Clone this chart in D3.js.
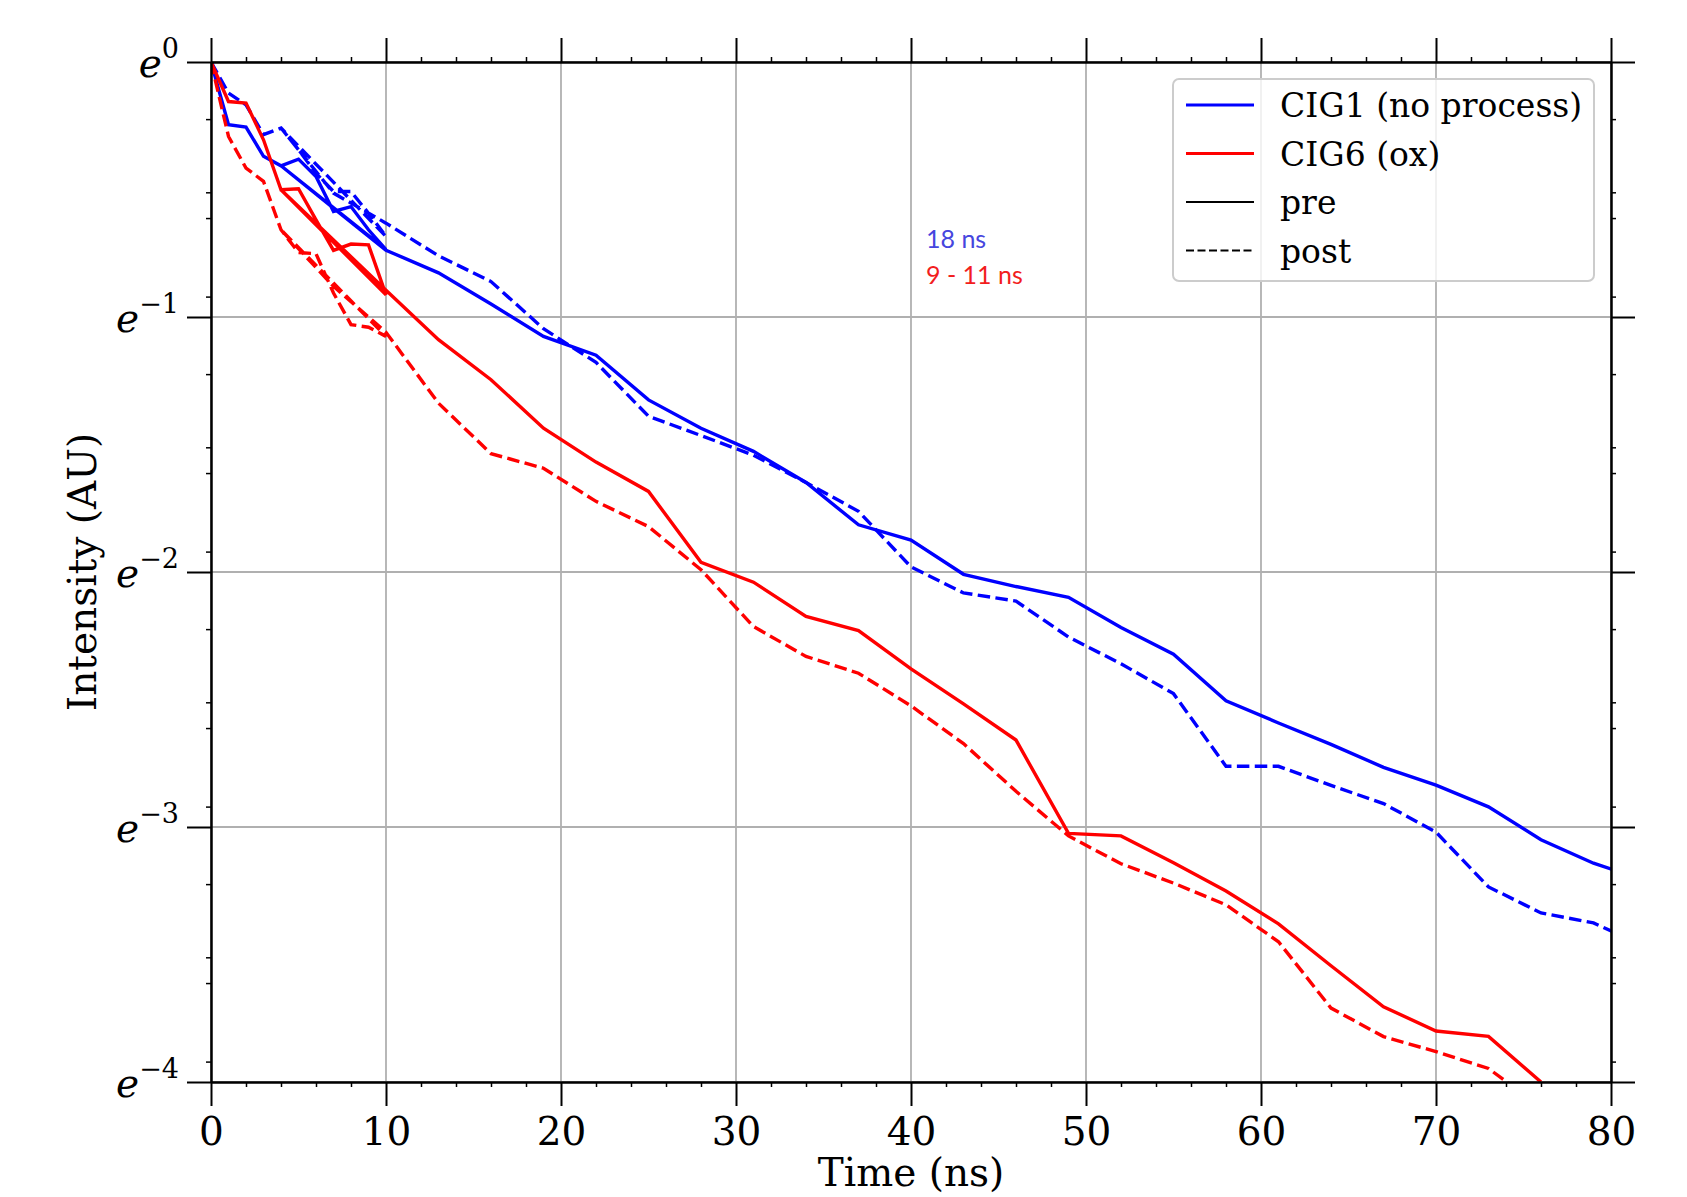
<!DOCTYPE html>
<html>
<head>
<meta charset="utf-8">
<script src="https://cdn.jsdelivr.net/npm/d3@7"></script>
<style>
  body { margin: 0; background: #ffffff; }
</style>
</head>
<body>
<div id="graph1"></div>
<script>
// frame of the figure
const FRAME_WIDTH = 1687;
const FRAME_HEIGHT = 1197;
const MARGINS = {left: 211, right: 76, top: 62, bottom: 115};

const VIS_WIDTH = FRAME_WIDTH - MARGINS.left - MARGINS.right;
const VIS_HEIGHT = FRAME_HEIGHT - MARGINS.top - MARGINS.bottom;

// tick values (y is ln of intensity, axis labelled as powers of e)
const X_TICKS = [0, 10, 20, 30, 40, 50, 60, 70, 80];
const X_MINOR = [2, 4, 6, 8, 12, 14, 16, 18, 22, 24, 26, 28, 32, 34, 36, 38, 42, 44, 46, 48,
                 52, 54, 56, 58, 62, 64, 66, 68, 72, 74, 76, 78];
const Y_TICKS = [0, -1, -2, -3, -4];
const Y_MINOR = [-0.224, -0.511, -0.612, -0.92, -1.224, -1.511, -1.612, -1.92,
                 -2.224, -2.511, -2.612, -2.92, -3.224, -3.511, -3.612, -3.92];

// time points: first 10 ns at 1 ns step, then a 3 ns step trace
const T_FINE = [0, 1, 2, 3, 4, 5, 6, 7, 8, 9, 10];
const T_COARSE = [4, 7, 10, 13, 16, 19, 22, 25, 28, 31, 34, 37, 40, 43, 46, 49, 52, 55, 58,
                  61, 64, 67, 70, 73, 76, 79, 82];

// ln(intensity)
const CIG1_PRE_FINE = [0, -0.246, -0.255, -0.370, -0.407, -0.381, -0.449, -0.586, -0.567, -0.658, -0.736];
const CIG1_PRE_COARSE = [-0.407, -0.573, -0.738, -0.827, -0.949, -1.076, -1.150, -1.325, -1.436, -1.527,
                         -1.649, -1.815, -1.875, -2.009, -2.057, -2.099, -2.218, -2.322, -2.505, -2.592,
                         -2.676, -2.766, -2.836, -2.921, -3.050, -3.142, -3.210];

const CIG1_POST_FINE = [0, -0.122, -0.168, -0.285, -0.259, -0.344, -0.436, -0.508, -0.508, -0.593, -0.684];
const CIG1_POST_COARSE = [-0.259, -0.514, -0.632, -0.760, -0.861, -1.046, -1.178, -1.389, -1.465, -1.542,
                          -1.649, -1.762, -1.980, -2.082, -2.114, -2.255, -2.360, -2.477, -2.762, -2.762,
                          -2.837, -2.908, -3.020, -3.235, -3.337, -3.376, -3.470];

const CIG6_PRE_FINE = [0, -0.155, -0.161, -0.305, -0.501, -0.497, -0.619, -0.739, -0.714, -0.717, -0.913];
const CIG6_PRE_COARSE = [-0.501, -0.698, -0.895, -1.089, -1.246, -1.436, -1.569, -1.684, -1.962, -2.040,
                         -2.174, -2.230, -2.380, -2.517, -2.659, -3.025, -3.035, -3.140, -3.251, -3.380,
                         -3.544, -3.705, -3.800, -3.821, -4.000];

const CIG6_POST_FINE = [0, -0.292, -0.416, -0.468, -0.658, -0.747, -0.752, -0.906, -1.030, -1.040, -1.076];
const CIG6_POST_COARSE = [-0.658, -0.880, -1.060, -1.338, -1.536, -1.593, -1.723, -1.822, -1.991, -2.214,
                          -2.331, -2.397, -2.525, -2.673, -2.860, -3.035, -3.144, -3.220, -3.305, -3.450,
                          -3.710, -3.822, -3.881, -3.947, -4.100];

const LEGEND_LABELS = ["CIG1 (no process)", "CIG6 (ox)", "pre", "post"];
const NOTES = ["18 ns", "9 - 11 ns"];

const BLUE = "#0000ff";
const RED = "#ff0000";
const SERIF = "'DejaVu Serif', serif";

// join fine and coarse parts into one trace, in plotting order
function makeTrace(fine, coarse) {
	const pts = T_FINE.map((t, i) => [t, fine[i]]);
	coarse.forEach((v, i) => pts.push([T_COARSE[i], v]));
	return pts;
}

const SERIES = [
	{color: BLUE, dash: null, pts: makeTrace(CIG1_PRE_FINE, CIG1_PRE_COARSE)},
	{color: BLUE, dash: "12.5,5.4", pts: makeTrace(CIG1_POST_FINE, CIG1_POST_COARSE)},
	{color: RED, dash: null, pts: makeTrace(CIG6_PRE_FINE, CIG6_PRE_COARSE)},
	{color: RED, dash: "12.5,5.4", pts: makeTrace(CIG6_POST_FINE, CIG6_POST_COARSE)}
];

const FRAME1 = d3.select("#graph1")
				.append("svg")
					.attr("width", FRAME_WIDTH)
					.attr("height", FRAME_HEIGHT)
					.style("display", "block");

FRAME1.append("rect")
		.attr("width", FRAME_WIDTH)
		.attr("height", FRAME_HEIGHT)
		.attr("fill", "#ffffff");

const X_SCALE = d3.scaleLinear().domain([0, 80]).range([0, VIS_WIDTH]);
const Y_SCALE = d3.scaleLinear().domain([-4, 0]).range([VIS_HEIGHT, 0]);

const PLOT = FRAME1.append("g")
				.attr("transform", "translate(" + MARGINS.left + "," + MARGINS.top + ")");

PLOT.append("clipPath")
		.attr("id", "clip")
	.append("rect")
		.attr("width", VIS_WIDTH)
		.attr("height", VIS_HEIGHT);

// grid
PLOT.append("g")
	.selectAll("line")
	.data(X_TICKS)
	.enter()
	.append("line")
		.attr("x1", d => X_SCALE(d))
		.attr("x2", d => X_SCALE(d))
		.attr("y1", 0)
		.attr("y2", VIS_HEIGHT)
		.attr("stroke", "#b0b0b0")
		.attr("stroke-width", 1.8);

PLOT.append("g")
	.selectAll("line")
	.data(Y_TICKS)
	.enter()
	.append("line")
		.attr("x1", 0)
		.attr("x2", VIS_WIDTH)
		.attr("y1", d => Y_SCALE(d))
		.attr("y2", d => Y_SCALE(d))
		.attr("stroke", "#b0b0b0")
		.attr("stroke-width", 1.8);

// data traces
const line = d3.line()
				.x(d => X_SCALE(d[0]))
				.y(d => Y_SCALE(d[1]));

PLOT.append("g")
		.attr("clip-path", "url(#clip)")
	.selectAll("path")
	.data(SERIES)
	.enter()
	.append("path")
		.attr("d", d => line(d.pts))
		.attr("fill", "none")
		.attr("stroke", d => d.color)
		.attr("stroke-width", 3.4)
		.attr("stroke-linejoin", "miter")
		.attr("stroke-dasharray", d => d.dash);

// axes: ticks point outward on all four sides
function styleAxis(g, width) {
	g.attr("font-family", SERIF).attr("font-size", 39);
	g.selectAll("line").attr("stroke", "#000").attr("stroke-width", width);
	g.select(".domain").attr("stroke", "#000").attr("stroke-width", 2);
}

PLOT.append("g")
		.attr("transform", "translate(0," + VIS_HEIGHT + ")")
		.call(d3.axisBottom(X_SCALE).tickValues(X_MINOR).tickSize(5).tickSizeOuter(0).tickFormat(""))
		.call(g => styleAxis(g, 1.5));

PLOT.append("g")
		.call(d3.axisTop(X_SCALE).tickValues(X_MINOR).tickSize(5).tickSizeOuter(0).tickFormat(""))
		.call(g => styleAxis(g, 1.5));

PLOT.append("g")
		.call(d3.axisLeft(Y_SCALE).tickValues(Y_MINOR).tickSize(5).tickSizeOuter(0).tickFormat(""))
		.call(g => styleAxis(g, 1.5));

PLOT.append("g")
		.attr("transform", "translate(" + VIS_WIDTH + ",0)")
		.call(d3.axisRight(Y_SCALE).tickValues(Y_MINOR).tickSize(5).tickSizeOuter(0).tickFormat(""))
		.call(g => styleAxis(g, 1.5));

const X_AXIS = PLOT.append("g")
		.attr("transform", "translate(0," + VIS_HEIGHT + ")")
		.call(d3.axisBottom(X_SCALE).tickValues(X_TICKS).tickSize(24).tickSizeOuter(0)
				.tickPadding(11).tickFormat(d3.format("d")))
		.call(g => styleAxis(g, 2));
X_AXIS.selectAll(".tick text").attr("fill", "#000");

PLOT.append("g")
		.call(d3.axisTop(X_SCALE).tickValues(X_TICKS).tickSize(24).tickSizeOuter(0).tickFormat(""))
		.call(g => styleAxis(g, 2));

PLOT.append("g")
		.attr("transform", "translate(" + VIS_WIDTH + ",0)")
		.call(d3.axisRight(Y_SCALE).tickValues(Y_TICKS).tickSize(24).tickSizeOuter(0).tickFormat(""))
		.call(g => styleAxis(g, 2));

const Y_AXIS = PLOT.append("g")
		.call(d3.axisLeft(Y_SCALE).tickValues(Y_TICKS).tickSize(24).tickSizeOuter(0).tickPadding(8))
		.call(g => styleAxis(g, 2));

// y labels as e with a superscript exponent
Y_AXIS.selectAll(".tick text").each(function(d) {
	const t = d3.select(this).text(null).attr("dy", null).attr("y", 14).attr("fill", "#000");
	t.append("tspan").attr("font-style", "italic").text("e");
	t.append("tspan")
		.attr("font-size", 27)
		.attr("dy", -19)
		.text(d === 0 ? "0" : "\u2212" + (-d));
});

// axis titles
FRAME1.append("text")
		.attr("x", MARGINS.left + VIS_WIDTH / 2)
		.attr("y", 1186)
		.attr("text-anchor", "middle")
		.attr("font-family", SERIF)
		.attr("font-size", 39)
		.text("Time (ns)");

FRAME1.append("text")
		.attr("transform", "translate(96," + (MARGINS.top + VIS_HEIGHT / 2) + ") rotate(-90)")
		.attr("text-anchor", "middle")
		.attr("font-family", SERIF)
		.attr("font-size", 39)
		.text("Intensity (AU)");

// notes next to the curves
FRAME1.append("text")
		.attr("x", 926)
		.attr("y", 248)
		.attr("font-family", "Lato, 'Open Sans', sans-serif")
		.attr("font-size", 25)
		.attr("fill", "#4646de")
		.text(NOTES[0]);

FRAME1.append("text")
		.attr("x", 926)
		.attr("y", 284)
		.attr("font-family", "Lato, 'Open Sans', sans-serif")
		.attr("font-size", 25)
		.attr("fill", "#f21d1d")
		.text(NOTES[1]);

// legend
const LEGEND = FRAME1.append("g").attr("transform", "translate(1173,79)");

LEGEND.append("rect")
		.attr("width", 421)
		.attr("height", 202)
		.attr("rx", 6)
		.attr("fill", "#ffffff")
		.attr("fill-opacity", 0.8)
		.attr("stroke", "#cccccc")
		.attr("stroke-width", 2);

const LEGEND_STYLE = [
	{color: BLUE, width: 3, dash: null},
	{color: RED, width: 3, dash: null},
	{color: "#000", width: 2.2, dash: null},
	{color: "#000", width: 2.2, dash: "8,3.5"}
];

LEGEND_LABELS.forEach((label, i) => {
	const y = 26 + i * 48.5;
	LEGEND.append("line")
			.attr("x1", 13)
			.attr("x2", 81)
			.attr("y1", y)
			.attr("y2", y)
			.attr("stroke", LEGEND_STYLE[i].color)
			.attr("stroke-width", LEGEND_STYLE[i].width)
			.attr("stroke-dasharray", LEGEND_STYLE[i].dash);
	LEGEND.append("text")
			.attr("x", 107)
			.attr("y", y + 12)
			.attr("font-family", SERIF)
			.attr("font-size", 33)
			.text(label);
});
</script>
</body>
</html>
